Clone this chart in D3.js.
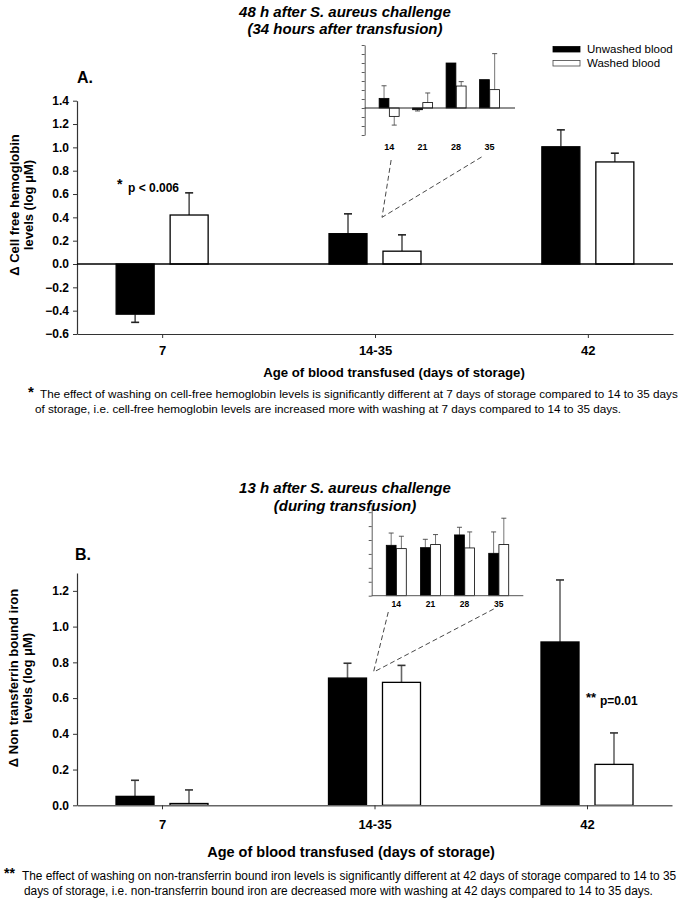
<!DOCTYPE html>
<html>
<head>
<meta charset="utf-8">
<script src="https://cdn.jsdelivr.net/npm/d3@7"></script>
<style>
  html, body { margin: 0; padding: 0; background: #fff; }
  svg { display: block; font-family: "Liberation Sans", Arial, Helvetica, sans-serif; }
</style>
</head>
<body>
<svg id="chart" width="690" height="900"></svg>
<script>
// ---------------- DATA ----------------
const categories = ["7", "14-35", "42"];
const groups = ["Unwashed blood", "Washed blood"];

// Panel A: cell-free hemoglobin (log µM), 48 h
const cfhUnwashed   = [-0.43, 0.26, 1.005];
const cfhUnwashedSE = [0.07, 0.17, 0.145];
const cfhWashed     = [0.42, 0.11, 0.875];
const cfhWashedSE   = [0.19, 0.14, 0.075];
const cfhTicks = [-0.6, -0.4, -0.2, 0.0, 0.2, 0.4, 0.6, 0.8, 1.0, 1.2, 1.4];

// Inset A (days 14, 21, 28, 35)
const insetDays = ["14", "21", "28", "35"];
const insetCfhUnwashed   = [0.214, -0.038, 1.0, 0.63];
const insetCfhUnwashedSE = [0.28, 0.028, 0, 0];
const insetCfhWashed     = [-0.186, 0.12, 0.488, 0.408];
const insetCfhWashedSE   = [0.194, 0.214, 0.098, 0.80];

// Panel B: non transferrin bound iron (log µM), 13 h
const ntbiUnwashed   = [0.05, 0.712, 0.914];
const ntbiUnwashedSE = [0.09, 0.083, 0.347];
const ntbiWashed     = [0.01, 0.688, 0.229];
const ntbiWashedSE   = [0.076, 0.095, 0.176];
const ntbiTicks = [0.0, 0.2, 0.4, 0.6, 0.8, 1.0, 1.2];

// Inset B
const insetNtbiUnwashed   = [0.724, 0.69, 0.873, 0.609];
const insetNtbiUnwashedSE = [0.176, 0.12, 0.11, 0.307];
const insetNtbiWashed     = [0.676, 0.734, 0.686, 0.734];
const insetNtbiWashedSE   = [0.178, 0.144, 0.23, 0.379];

// ---------------- DRAWING ----------------
const svg = d3.select("#chart");
svg.append("rect").attr("width", 690).attr("height", 900).attr("fill", "#fff");

const AXIS = "#333";

function fitText(sel, width, base) {
  sel.style("font-size", base + "px");
  const w = sel.node().getComputedTextLength();
  sel.style("font-size", (base * width / w).toFixed(2) + "px");
}

function drawBars(g, x, sub, y, cats, unw, unwSE, wsh, wshSE, opts) {
  const rows = [];
  cats.forEach((c, i) => {
    rows.push({ c, grp: groups[0], v: unw[i], se: unwSE[i] });
    rows.push({ c, grp: groups[1], v: wsh[i], se: wshSE[i] });
  });
  const y0 = y(0);
  // error bars (drawn first so bar covers the stem inside)
  rows.filter(d => d.se > 0).forEach(d => {
    const cx = x(d.c) + sub(d.grp) + sub.bandwidth() / 2;
    const sgn = d.v >= 0 ? 1 : -1;
    const yEnd = y(d.v + sgn * d.se);
    g.append("line").attr("x1", cx).attr("x2", cx)
      .attr("y1", y(d.v)).attr("y2", yEnd)
      .attr("stroke", opts.errColor).attr("stroke-width", opts.errWidth);
    g.append("line").attr("x1", cx - opts.cap).attr("x2", cx + opts.cap)
      .attr("y1", yEnd).attr("y2", yEnd)
      .attr("stroke", opts.capColor).attr("stroke-width", opts.errWidth);
  });
  g.selectAll("rect.bar").data(rows).join("rect")
    .attr("class", "bar")
    .attr("x", d => x(d.c) + sub(d.grp))
    .attr("width", sub.bandwidth())
    .attr("y", d => Math.min(y(d.v), y0))
    .attr("height", d => Math.abs(y(d.v) - y0))
    .attr("fill", d => d.grp === groups[0] ? "#000" : "#fff")
    .attr("stroke", "#000")
    .attr("stroke-width", opts.barStroke);
}

function styleAxis(g) {
  g.selectAll("path.domain").attr("stroke", AXIS).attr("stroke-width", 1.2);
  g.selectAll(".tick line").attr("stroke", AXIS).attr("stroke-width", 1);
}

const sub = d3.scaleBand().domain(groups).range([-46, 46]).paddingInner(0.296);
const subInset = d3.scaleBand().domain(groups).range([-10, 10]).paddingInner(0.04);

// ================= PANEL A =================
{
  const x = d3.scalePoint().domain(categories).range([77, 673]).padding(0.4);
  const y = d3.scaleLinear().domain([-0.6, 1.4]).range([334, 100.7]);

  // Titles
  const t = svg.append("text").attr("x", 345).attr("text-anchor", "middle")
    .attr("font-weight", "bold").attr("font-style", "italic").attr("font-size", 15);
  t.append("tspan").attr("x", 345).attr("y", 17).text("48 h after S. aureus challenge");
  t.append("tspan").attr("x", 345).attr("y", 34).text("(34 hours after transfusion)");

  svg.append("text").attr("x", 77).attr("y", 83).attr("font-weight", "bold")
    .attr("font-size", 16).text("A.");

  // y axis
  const ya = svg.append("g").attr("transform", "translate(77,0)")
    .call(d3.axisLeft(y).tickValues(cfhTicks).tickFormat(d3.format(".1f"))
      .tickSize(4).tickSizeOuter(0).tickPadding(4));
  ya.selectAll("text").attr("font-size", 12).attr("font-weight", "bold")
    .attr("font-family", "Liberation Sans, Arial, sans-serif").attr("fill", "#000");
  styleAxis(ya);

  // x axis at bottom
  const xa = svg.append("g").attr("transform", `translate(0,${y(-0.6)})`)
    .call(d3.axisBottom(x).tickSize(4).tickSizeOuter(0).tickPadding(8));
  xa.selectAll("text").attr("font-size", 13).attr("font-weight", "bold")
    .attr("font-family", "Liberation Sans, Arial, sans-serif").attr("fill", "#000");
  styleAxis(xa);

  const g = svg.append("g");
  drawBars(g, x, sub, y, categories, cfhUnwashed, cfhUnwashedSE, cfhWashed, cfhWashedSE,
    { errColor: "#555", capColor: "#222", errWidth: 1.6, cap: 4, barStroke: 1.3 });

  // zero line
  svg.append("line").attr("x1", 77).attr("x2", 673).attr("y1", y(0)).attr("y2", y(0))
    .attr("stroke", "#000").attr("stroke-width", 1.4);

  // y label
  const yl = svg.append("text").attr("transform", "translate(0,205) rotate(-90)")
    .attr("text-anchor", "middle").attr("font-weight", "bold").attr("font-size", 13);
  yl.append("tspan").attr("x", 0).attr("y", 19).text("\u0394 Cell free hemoglobin");
  yl.append("tspan").attr("x", 0).attr("y", 33).text("levels (log \u03BCM)");

  // x label
  svg.append("text").attr("x", 394).attr("y", 377).attr("text-anchor", "middle")
    .attr("font-weight", "bold").attr("font-size", 13.2)
    .text("Age of blood transfused (days of storage)");

  // significance
  svg.append("text").attr("x", 117).attr("y", 189).attr("font-weight", "bold")
    .attr("font-size", 14).text("*");
  svg.append("text").attr("x", 128).attr("y", 192).attr("font-weight", "bold")
    .attr("font-size", 12).text("p < 0.006");

  // ----- inset A -----
  const xi = d3.scalePoint().domain(insetDays).range([364.7, 514]).padding(0.73);
  const yi = d3.scaleLinear().domain([-0.6, 1.4]).range([135, 45]);
  const yia = svg.append("g").attr("transform", "translate(364.7,0)")
    .call(d3.axisLeft(yi).tickValues(cfhTicks).tickFormat("").tickSize(3).tickSizeOuter(0));
  styleAxis(yia);
  yia.selectAll("path.domain").attr("stroke-width", 0.8);
  yia.selectAll(".tick line").attr("stroke-width", 0.8);
  const gi = svg.append("g");
  drawBars(gi, xi, subInset, yi, insetDays, insetCfhUnwashed, insetCfhUnwashedSE,
    insetCfhWashed, insetCfhWashedSE,
    { errColor: "#666", capColor: "#444", errWidth: 0.9, cap: 2.5, barStroke: 0.8 });
  svg.append("line").attr("x1", 364.7).attr("x2", 515).attr("y1", yi(0)).attr("y2", yi(0))
    .attr("stroke", "#222").attr("stroke-width", 1);
  svg.append("g").selectAll("text").data(insetDays).join("text")
    .attr("x", d => xi(d)).attr("y", 150).attr("text-anchor", "middle")
    .attr("font-weight", "bold").attr("font-size", 9).text(d => d);

  // connector lines
  const endA = [x("14-35") + 7, y(0.40)];
  [[xi("14") + 2, 160], [xi("35") - 8, 157]].forEach(s => {
    svg.append("line").attr("x1", s[0]).attr("y1", s[1]).attr("x2", endA[0]).attr("y2", endA[1])
      .attr("stroke", "#333").attr("stroke-width", 0.9).attr("stroke-dasharray", "5,3");
  });

  // legend
  const lg = svg.append("g");
  groups.forEach((gname, i) => {
    lg.append("rect").attr("x", 553).attr("y", 46.5 + i * 14).attr("width", 27).attr("height", 5.5)
      .attr("fill", i === 0 ? "#000" : "#fff").attr("stroke", i === 0 ? "#000" : "#444")
      .attr("stroke-width", 0.8);
    lg.append("text").attr("x", 587).attr("y", 53 + i * 14).attr("font-size", 11.5)
      .text(gname);
  });

  // footnote
  svg.append("text").attr("x", 28).attr("y", 397).attr("font-weight", "bold")
    .attr("font-size", 15).text("*");
  const f1 = svg.append("text").attr("x", 40).attr("y", 398)
    .text("The effect of washing on cell-free hemoglobin levels is significantly different at 7 days of storage compared to 14 to 35 days");
  fitText(f1, 638, 11);
  const f2 = svg.append("text").attr("x", 35).attr("y", 413)
    .text("of storage, i.e. cell-free hemoglobin levels are increased more with washing at 7 days compared to 14 to 35 days.");
  f2.style("font-size", f1.style("font-size"));
}

// ================= PANEL B =================
{
  const x = d3.scalePoint().domain(categories).range([77, 672]).padding(0.4);
  const y = d3.scaleLinear().domain([0, 1.3]).range([805.3, 573]);

  const t = svg.append("text").attr("x", 345).attr("text-anchor", "middle")
    .attr("font-weight", "bold").attr("font-style", "italic").attr("font-size", 15);
  t.append("tspan").attr("x", 345).attr("y", 493).text("13 h after S. aureus challenge");
  t.append("tspan").attr("x", 345).attr("y", 511).text("(during transfusion)");

  svg.append("text").attr("x", 75).attr("y", 560).attr("font-weight", "bold")
    .attr("font-size", 16).text("B.");

  const ya = svg.append("g").attr("transform", "translate(77,0)")
    .call(d3.axisLeft(y).tickValues(ntbiTicks).tickFormat(d3.format(".1f"))
      .tickSize(4).tickSizeOuter(0).tickPadding(4));
  ya.selectAll("text").attr("font-size", 12).attr("font-weight", "bold")
    .attr("font-family", "Liberation Sans, Arial, sans-serif").attr("fill", "#000");
  styleAxis(ya);

  const g = svg.append("g");
  drawBars(g, x, sub, y, categories, ntbiUnwashed, ntbiUnwashedSE, ntbiWashed, ntbiWashedSE,
    { errColor: "#666", capColor: "#333", errWidth: 1.6, cap: 4, barStroke: 1.3 });

  const xa = svg.append("g").attr("transform", `translate(0,${y(0)})`)
    .call(d3.axisBottom(x).tickSize(4).tickSizeOuter(0).tickPadding(10));
  xa.selectAll("text").attr("font-size", 13).attr("font-weight", "bold")
    .attr("font-family", "Liberation Sans, Arial, sans-serif").attr("fill", "#000");
  styleAxis(xa);
  xa.selectAll("path.domain").attr("stroke", "#666").attr("stroke-width", 1.4);

  const yl = svg.append("text").attr("transform", "translate(0,678) rotate(-90)")
    .attr("text-anchor", "middle").attr("font-weight", "bold").attr("font-size", 13);
  yl.append("tspan").attr("x", 0).attr("y", 18).text("\u0394 Non transferrin bound iron");
  yl.append("tspan").attr("x", 0).attr("y", 32).text("levels (log \u03BCM)");

  svg.append("text").attr("x", 351).attr("y", 857).attr("text-anchor", "middle")
    .attr("font-weight", "bold").attr("font-size", 14.5)
    .text("Age of blood transfused (days of storage)");

  svg.append("text").attr("x", 586).attr("y", 702).attr("font-weight", "bold")
    .attr("font-size", 13).text("**");
  svg.append("text").attr("x", 600).attr("y", 705).attr("font-weight", "bold")
    .attr("font-size", 12).text("p=0.01");

  // ----- inset B -----
  const xi = d3.scalePoint().domain(insetDays).range([371.7, 523.3]).padding(0.72);
  const yi = d3.scaleLinear().domain([0, 1.3]).range([595.7, 505.2]);
  const yia = svg.append("g").attr("transform", "translate(371.7,0)")
    .call(d3.axisLeft(yi).tickValues(ntbiTicks).tickFormat("").tickSize(3).tickSizeOuter(0));
  styleAxis(yia);
  yia.selectAll("path.domain").attr("stroke-width", 0.8);
  yia.selectAll(".tick line").attr("stroke-width", 0.8);
  const gi = svg.append("g");
  drawBars(gi, xi, subInset, yi, insetDays, insetNtbiUnwashed, insetNtbiUnwashedSE,
    insetNtbiWashed, insetNtbiWashedSE,
    { errColor: "#666", capColor: "#444", errWidth: 0.9, cap: 2.5, barStroke: 0.8 });
  svg.append("line").attr("x1", 371.7).attr("x2", 523.3).attr("y1", yi(0)).attr("y2", yi(0))
    .attr("stroke", "#555").attr("stroke-width", 1);
  svg.append("g").selectAll("text").data(insetDays).join("text")
    .attr("x", d => xi(d)).attr("y", 607).attr("text-anchor", "middle")
    .attr("font-weight", "bold").attr("font-size", 8.5).text(d => d);

  const endB = [x("14-35") - 1, y(0.745)];
  [[xi("14") - 8, 612], [xi("35") - 5, 609]].forEach(s => {
    svg.append("line").attr("x1", s[0]).attr("y1", s[1]).attr("x2", endB[0]).attr("y2", endB[1])
      .attr("stroke", "#333").attr("stroke-width", 0.9).attr("stroke-dasharray", "5,3");
  });

  // footnote
  svg.append("text").attr("x", 4).attr("y", 878).attr("font-weight", "bold")
    .attr("font-size", 14).text("**");
  const f1 = svg.append("text").attr("x", 22).attr("y", 880)
    .text("The effect of washing on non-transferrin bound iron levels is significantly different at 42 days of storage compared to 14 to 35");
  fitText(f1, 654, 11);
  const f2 = svg.append("text").attr("x", 24).attr("y", 895)
    .text("days of storage, i.e. non-transferrin bound iron are decreased more with washing at 42 days compared to 14 to 35 days.");
  f2.style("font-size", f1.style("font-size"));
}
</script>
</body>
</html>
